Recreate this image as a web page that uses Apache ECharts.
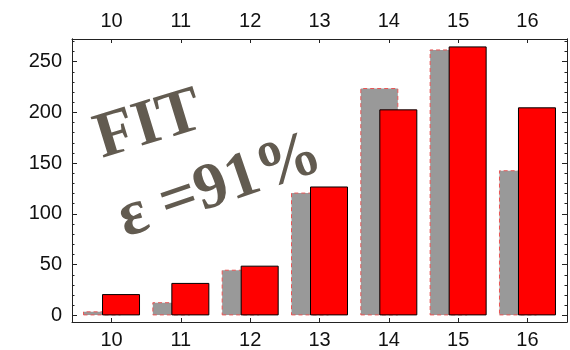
<!DOCTYPE html>
<html>
<head>
<meta charset="utf-8">
<script src="https://cdn.jsdelivr.net/npm/echarts@6/dist/echarts.min.js"></script>
<style>
  html, body { margin: 0; padding: 0; background: #fff; }
  #chart { width: 570px; height: 350px; }
</style>
</head>
<body>
<div id="chart"></div>
<script>
// Categories along x and the two bar series
const categories = [10, 11, 12, 13, 14, 15, 16];
const dataValues = [4, 13, 45, 121, 224, 262, 143];   // grey bars
const fitValues  = [21, 32, 49, 127, 203, 265, 205];  // red bars (fit)
const yTickLabels = [0, 50, 100, 150, 200, 250];
const yMinorTicks = [0, 10, 20, 30, 40, 50, 60, 70, 80, 90, 100, 110, 120, 130, 140,
                     150, 160, 170, 180, 190, 200, 210, 220, 230, 240, 250, 260, 270];
const annotationTitle = 'FIT';
const annotationEff = 'ε =91%';

const chart = echarts.init(document.getElementById('chart'));

const labelFont = { fontFamily: 'Liberation Sans', fontSize: 20, color: '#111' };
const lineStyle = { color: '#222', width: 1 };

function xAxis(position) {
  return {
    type: 'value', position: position, min: 9.43, max: 16.57,
    axisLine: { show: true, onZero: false, lineStyle: lineStyle },
    axisTick: { show: true, inside: true, length: 4, customValues: categories, lineStyle: lineStyle },
    axisLabel: Object.assign({ customValues: categories, margin: 8 }, labelFont),
    splitLine: { show: false }
  };
}

function yAxis(position, ticks, len, withLabels) {
  return {
    type: 'value', position: position, min: -6.5, max: 272.3,
    axisLine: { show: true, onZero: false, lineStyle: lineStyle },
    axisTick: { show: true, inside: true, length: len, customValues: ticks, lineStyle: lineStyle },
    axisLabel: withLabels
      ? Object.assign({ customValues: yTickLabels, margin: 10 }, labelFont)
      : { show: false },
    splitLine: { show: false }
  };
}

chart.setOption({
  animation: false,
  backgroundColor: '#fff',
  grid: { left: 72, right: 3, top: 39, bottom: 24, containLabel: false },
  xAxis: [xAxis('bottom'), xAxis('top')],
  yAxis: [
    yAxis('left', yTickLabels, 5, true),
    yAxis('left', yMinorTicks, 2.5, false),
    yAxis('right', yTickLabels, 5, false),
    yAxis('right', yMinorTicks, 2.5, false)
  ],
  series: [
    {
      type: 'bar', xAxisIndex: 0, yAxisIndex: 0,
      data: categories.map((c, i) => [c, dataValues[i]]),
      barWidth: 38, barGap: '-50%',
      itemStyle: { color: '#999999', borderColor: '#e85555', borderWidth: 1, borderType: [4, 3] }
    },
    {
      type: 'bar', xAxisIndex: 0, yAxisIndex: 0,
      data: categories.map((c, i) => [c, fitValues[i]]),
      barWidth: 38, barGap: '-50%',
      itemStyle: { color: '#ff0000', borderColor: '#000', borderWidth: 1 }
    }
  ],
  graphic: [
    {
      type: 'text', x: 149, y: 126, rotation: 17 * Math.PI / 180, z: 100,
      style: {
        text: annotationTitle, font: 'bold 65px "Liberation Serif"',
        fill: '#625b50', align: 'center', verticalAlign: 'middle'
      }
    },
    {
      type: 'text', x: 220, y: 187, rotation: 19 * Math.PI / 180, z: 100,
      style: {
        text: annotationEff, font: 'bold 65px "Liberation Serif"',
        fill: '#625b50', align: 'center', verticalAlign: 'middle'
      }
    }
  ]
});
</script>
</body>
</html>
